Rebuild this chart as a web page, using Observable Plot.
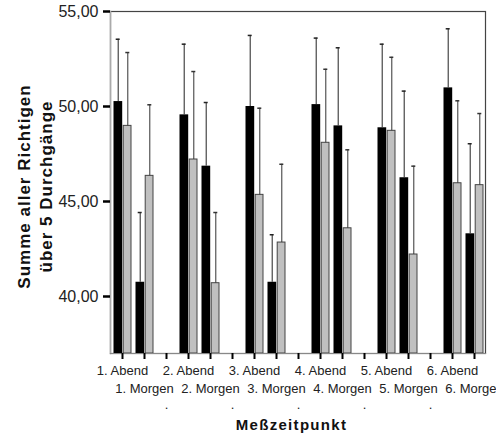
<!DOCTYPE html>
<html>
<head>
<meta charset="utf-8">
<script src="https://cdn.jsdelivr.net/npm/d3@7"></script>
<script src="https://cdn.jsdelivr.net/npm/@observablehq/plot@0.6"></script>
<style>
  html, body { margin: 0; padding: 0; background: #fff; overflow: hidden; }
</style>
</head>
<body>
<div id="chart"></div>
<script>
const yDomain = [37, 55];
const yTicks = [40, 45, 50, 55];
const categories = ["1. Abend","1. Morgen","gap1","2. Abend","2. Morgen","gap2","3. Abend","3. Morgen","gap3",
  "4. Abend","4. Morgen","gap4","5. Abend","5. Morgen","gap5","6. Abend","6. Morgen"];
const tickLabels = ["1. Abend","1. Morgen",".","2. Abend","2. Morgen",".","3. Abend","3. Morgen",".",
  "4. Abend","4. Morgen",".","5. Abend","5. Morgen",".","6. Abend","6. Morgen"];
const blackValues = [50.26, 40.75, null, 49.56, 46.86, null, 50.00, 40.75, null, 50.10, 48.98, null, 48.88, 46.25, null, 50.98, 43.30];
const blackUpper  = [53.54, 44.42, null, 53.28, 50.21, null, 53.74, 43.25, null, 53.60, 53.09, null, 53.28, 50.81, null, 54.09, 48.04];
const grayValues  = [48.98, 46.35, null, 47.21, 40.70, null, 45.35, 42.84, null, 48.09, 43.59, null, 48.72, 42.21, null, 45.96, 45.86];
const grayUpper   = [52.84, 50.09, null, 51.84, 44.42, null, 49.91, 46.96, null, 51.96, 47.72, null, 52.59, 46.86, null, 50.30, 49.63];
const yTitle = "Summe aller Richtigen\nüber 5 Durchgänge";
const xTitle = "Meßzeitpunkt";

const rows = categories.map((cat, i) => ({
  cat, black: blackValues[i], blackUp: blackUpper[i], gray: grayValues[i], grayUp: grayUpper[i]
})).filter(d => d.black != null);

const labels = categories.map((cat, i) => ({cat, label: tickLabels[i]}));
const row0 = labels.filter(d => d.label.includes("Abend"));
const row1 = labels.filter(d => d.label.includes("Morgen"));
const row2 = labels.filter(d => d.label === ".");

const fmt = d => d.toFixed(2).replace(".", ",");
const font = "Liberation Sans, Arial, Helvetica, sans-serif";

const chart = Plot.plot({
  width: 496,
  height: 437,
  marginLeft: 110,
  marginRight: 11,
  marginTop: 11,
  marginBottom: 84,
  x: {type: "band", domain: categories, padding: 0},
  y: {domain: yDomain},
  style: {fontFamily: font, background: "#fff", color: "#111"},
  marks: [
    Plot.frame({stroke: "#444", strokeWidth: 1.2}),
    Plot.barY(rows, {x: "cat", y1: yDomain[0], y2: "black", fill: "#000", insetLeft: 2.5, insetRight: 10.8}),
    Plot.barY(rows, {x: "cat", y1: yDomain[0], y2: "gray", fill: "#c0c0c0", stroke: "#444", strokeWidth: 1, insetLeft: 12.2, insetRight: 2.0}),
    Plot.ruleX(rows, {x: "cat", y1: "black", y2: "blackUp", dx: -4.3, stroke: "#222", strokeWidth: 1}),
    Plot.tickY(rows, {x: "cat", y: "blackUp", dx: -4.3, insetLeft: 9, insetRight: 9, stroke: "#222", strokeWidth: 1.5}),
    Plot.ruleX(rows, {x: "cat", y1: "gray", y2: "grayUp", dx: 5.3, stroke: "#333", strokeWidth: 1}),
    Plot.tickY(rows, {x: "cat", y: "grayUp", dx: 5.3, insetLeft: 9, insetRight: 9, stroke: "#333", strokeWidth: 1.5}),
    Plot.frame({anchor: "left", stroke: "#aaa", strokeWidth: 1.5}),
    Plot.frame({anchor: "bottom", stroke: "#888", strokeWidth: 1.2}),
    Plot.axisY({ticks: yTicks, tickFormat: fmt, tickSize: 7, tickPadding: 5, fontSize: 16, strokeWidth: 2.5, stroke: "#000", fill: "#222", label: null}),
    Plot.axisX({tickSize: 6, strokeWidth: 2, stroke: "#000", tickFormat: () => "", label: null}),
    Plot.text(row0, {x: "cat", text: "label", frameAnchor: "bottom", lineAnchor: "middle", textAnchor: "middle", dy: 17.8, fontSize: 13, fill: "#222"}),
    Plot.text(row1, {x: "cat", text: "label", frameAnchor: "bottom", lineAnchor: "middle", textAnchor: "middle", dy: 35, fontSize: 13, fill: "#222"}),
    Plot.text(row2, {x: "cat", text: "label", frameAnchor: "bottom", lineAnchor: "middle", textAnchor: "middle", dy: 51.8, fontSize: 13, fill: "#222"}),
    Plot.text([yTitle], {frameAnchor: "left", textAnchor: "middle", lineAnchor: "middle", rotate: -90, dx: -77, dy: 4, lineHeight: 1.3, fontSize: 17, fontWeight: "bold", fill: "#111"}),
    Plot.text([xTitle], {frameAnchor: "bottom", textAnchor: "middle", lineAnchor: "middle", dx: -6.5, dy: 72, fontSize: 15, fontWeight: "bold", fill: "#111"})
  ]
});
document.getElementById("chart").appendChild(chart);
d3.select(chart).selectAll("text")
  .filter(function() { return this.textContent.startsWith("Summe"); })
  .style("letter-spacing", "1px");
d3.select(chart).selectAll("text")
  .filter(function() { return this.textContent === xTitle; })
  .style("letter-spacing", "1.3px");
</script>
</body>
</html>
